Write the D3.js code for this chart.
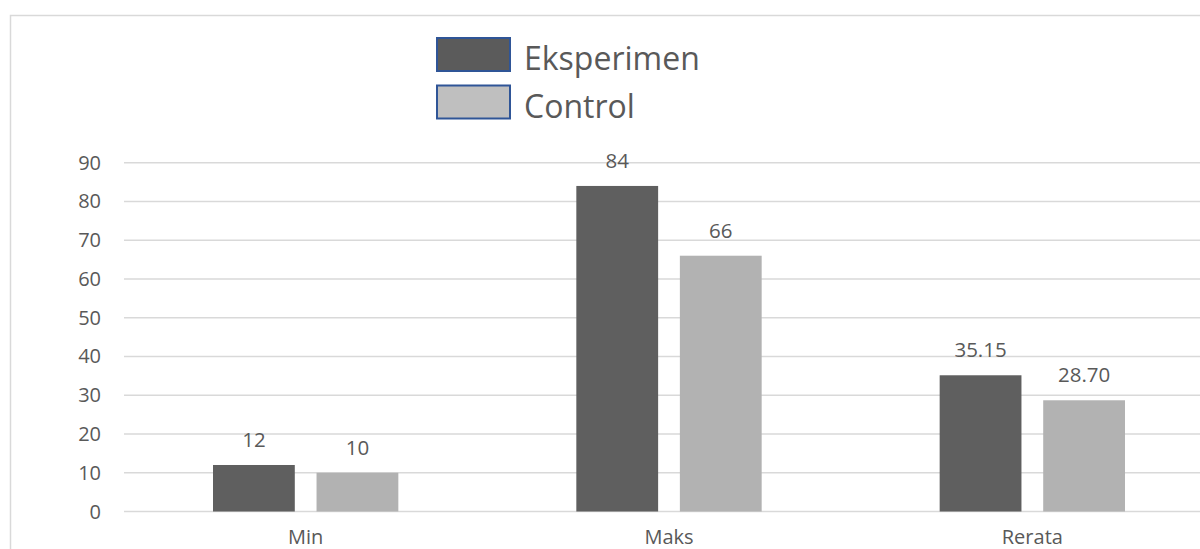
<!DOCTYPE html>
<html lang="en">
<head>
  <meta charset="UTF-8">
  <title>Eksperimen vs Control</title>
  <script src="https://d3js.org/d3.v7.min.js"></script>
  <style>
    body { margin: 0; background: #fff; font-family: "Open Sans", "Noto Sans", sans-serif; }
    .grid line { stroke: #d9d9d9; stroke-width: 1.5px; }
    .tick-label, .cat-label, .value-label, .legend-label { fill: #595959; }
  </style>
</head>
<body>
  <svg id="chart" width="1200" height="549"></svg>

  <script>
    // Chart data
    const categories = ["Min", "Maks", "Rerata"];
    const series = ["Eksperimen", "Control"];
    const eksperimen = [12, 84, 35.15];
    const control = [10, 66, 28.70];
    const valueLabels = [["12", "84", "35.15"], ["10", "66", "28.70"]];
    const yTicks = [0, 10, 20, 30, 40, 50, 60, 70, 80, 90];

    const barColors = ["#5f5f5f", "#b2b2b2"];
    const swatchColors = ["#5b5b5b", "#bfbfbf"];

    const svg = d3.select("#chart");

    // chart area frame (continues past the picture edges)
    svg.append("rect")
       .attr("x", 10.5).attr("y", 15.5)
       .attr("width", 1220).attr("height", 560)
       .attr("fill", "none")
       .attr("stroke", "#d9d9d9")
       .attr("stroke-width", 1.5);

    const plotLeft = 124, plotRight = 1214;
    const y = d3.scaleLinear().domain([0, 90]).range([511.5, 162.7]);
    const x = d3.scaleBand().domain(categories).range([plotLeft, plotRight]).padding(0);
    const xSub = d3.scaleBand().domain(series)
                   .range([89, x.bandwidth() - 89])
                   .paddingInner(0.21);

    // gridlines
    const grid = svg.append("g").attr("class", "grid");
    grid.selectAll("line")
        .data(yTicks)
        .enter().append("line")
        .attr("x1", plotLeft).attr("x2", 1200)
        .attr("y1", d => y(d)).attr("y2", d => y(d));

    // y tick labels
    svg.append("g").selectAll("text")
       .data(yTicks)
       .enter().append("text")
       .attr("class", "tick-label")
       .attr("x", 101)
       .attr("y", d => y(d))
       .attr("dy", "0.35em")
       .attr("text-anchor", "end")
       .style("font-size", "20px")
       .text(d => d);

    // bars
    const seriesValues = [eksperimen, control];
    const barData = [];
    series.forEach((s, si) => {
      categories.forEach((c, ci) => {
        barData.push({ s, si, c, v: seriesValues[si][ci], label: valueLabels[si][ci] });
      });
    });

    svg.append("g").selectAll("rect")
       .data(barData)
       .enter().append("rect")
       .attr("x", d => x(d.c) + xSub(d.s))
       .attr("y", d => y(d.v))
       .attr("width", xSub.bandwidth())
       .attr("height", d => y(0) - y(d.v))
       .attr("fill", d => barColors[d.si]);

    // value labels
    svg.append("g").selectAll("text")
       .data(barData)
       .enter().append("text")
       .attr("class", "value-label")
       .attr("x", d => x(d.c) + xSub(d.s) + xSub.bandwidth() / 2)
       .attr("y", d => y(d.v) - 18)
       .attr("text-anchor", "middle")
       .style("font-size", "20.5px")
       .text(d => d.label);

    // category labels (sit at the bottom edge, as in the cropped original)
    svg.append("g").selectAll("text")
       .data(categories)
       .enter().append("text")
       .attr("class", "cat-label")
       .attr("x", d => x(d) + x.bandwidth() / 2)
       .attr("y", 544)
       .attr("text-anchor", "middle")
       .style("font-size", "20px")
       .text(d => d);

    // legend
    const legend = svg.append("g").attr("transform", "translate(437,38)");
    const item = legend.selectAll("g")
       .data(series)
       .enter().append("g")
       .attr("transform", (d, i) => `translate(0,${i * 47.5})`);
    item.append("rect")
        .attr("width", 73).attr("height", 33)
        .attr("fill", (d, i) => swatchColors[i])
        .attr("stroke", "#2f5597")
        .attr("stroke-width", 2);
    item.append("text")
        .attr("class", "legend-label")
        .attr("x", 87)
        .attr("y", 32)
        .style("font-size", "32px")
        .text(d => d);
  </script>
</body>
</html>
